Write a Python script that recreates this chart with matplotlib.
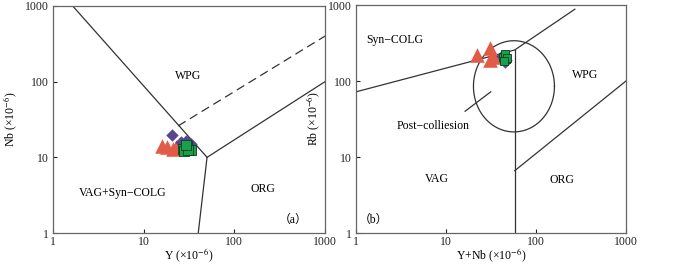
import numpy as np
import matplotlib
matplotlib.use("Agg")
import matplotlib.pyplot as plt

plt.rcParams['font.family'] = ['Liberation Serif', 'Noto Sans CJK SC', 'DejaVu Sans']
plt.rcParams['mathtext.fontset'] = 'stix'

# ---- Panel (a) data: Y vs Nb ----
a_tri_Y = [16, 18, 21, 23]
a_tri_Nb = [14, 13.5, 13, 13.5]
a_dia_Y = [20.4, 26, 29, 31, 33]
a_dia_Nb = [19.7, 16, 16.5, 16, 15]
a_sq_Y = [27, 30, 33, 28, 31, 29]
a_sq_Nb = [13, 14, 12.5, 12, 12.5, 14.5]

# ---- Panel (b) data: Y+Nb vs Rb ----
b_tri_X = [22, 31, 31, 34]
b_tri_Rb = [220, 269, 189, 209]
b_dia_X = [42, 44, 47, 45]
b_dia_Rb = [215, 200, 190, 180]
b_sq_X = [43, 46, 45, 48, 44]
b_sq_Rb = [210, 195, 225, 200, 185]

# discrimination boundaries (a)
a_line1_x = [1.65, 50, 40]
a_line1_y = [1000, 10, 1]
a_line2_x = [50, 1000]
a_line2_y = [10, 100]
a_dash_x = [24, 1000]
a_dash_y = [26, 400]

# discrimination boundaries (b)
b_line1_x = [1, 58, 270]
b_line1_y = [72, 256, 880]
b_vert_x = [58, 58]
b_vert_y = [256, 1]
b_line2_x = [58, 1000]
b_line2_y = [6.6, 100]
ell_center = (1.755, 1.93)   # log10 coordinates
ell_half = (0.45, 0.60)
b_leader_x = [16.3, 31.4]
b_leader_y = [40, 72]

red = '#E25B47'
purple = '#5A4595'
green = '#19A04B'
lc = '#333333'

fig = plt.figure(figsize=(7.0, 2.65), dpi=100)
axa = fig.add_axes([53/700, 32/265, 272/700, 227/265])
axb = fig.add_axes([356/700, 32/265, 270/700, 228/265])

for ax in (axa, axb):
    ax.set_xscale('log')
    ax.set_yscale('log')
    ax.set_xlim(1, 1000)
    ax.set_ylim(1, 1000)
    ax.set_xticks([1, 10, 100, 1000])
    ax.set_xticklabels(['1', '10', '100', '1000'])
    ax.set_yticks([1, 10, 100, 1000])
    ax.set_yticklabels(['1', '10', '100', '1000'])
    ax.minorticks_off()
    ax.tick_params(direction='in', length=3, width=0.8, labelsize=8.5, colors='#222222', pad=3)
    ax.tick_params(axis='x', pad=2)
    for s in ax.spines.values():
        s.set_color('#666666')
        s.set_linewidth(0.9)

fs = 8.5
# Panel a
axa.plot(a_line1_x, a_line1_y, color=lc, lw=0.9)
axa.plot(a_line2_x, a_line2_y, color=lc, lw=0.9)
axa.plot(a_dash_x, a_dash_y, color=lc, lw=0.9, ls=(0, (7, 4)))
axa.scatter(a_tri_Y, a_tri_Nb, marker='^', s=110, color=red, lw=0, zorder=3)
axa.scatter(a_dia_Y, a_dia_Nb, marker='D', s=40, color=purple, lw=0, zorder=3)
axa.scatter(a_sq_Y, a_sq_Nb, marker='s', s=45, color=green, edgecolor='#0B3D1E', lw=0.6, zorder=4)

def apos(px, py):
    return 10**((px-53)/90.67), 10**(3-(py-6)/75.67)

axa.text(*apos(188, 76), 'WPG', ha='center', va='center', fontsize=fs)
axa.text(*apos(123, 193), 'VAG+Syn−COLG', ha='center', va='center', fontsize=fs)
axa.text(*apos(263, 189), 'ORG', ha='center', va='center', fontsize=fs)
axa.text(*apos(293, 220), '（a）', ha='center', va='center', fontsize=8.5)
axa.set_xlabel(r'Y (×10$^{-6}$)', fontsize=8.5, labelpad=-1)
axa.set_ylabel(r'Nb (×10$^{-6}$)', fontsize=8.5, labelpad=4)

# Panel b
axb.plot(b_line1_x, b_line1_y, color=lc, lw=0.9)
axb.plot(b_vert_x, b_vert_y, color=lc, lw=0.9)
axb.plot(b_line2_x, b_line2_y, color=lc, lw=0.9)
t = np.linspace(0, 2*np.pi, 200)
ex = 10**(ell_center[0] + ell_half[0]*np.cos(t))
ey = 10**(ell_center[1] + ell_half[1]*np.sin(t))
axb.plot(ex, ey, color=lc, lw=0.9)
axb.plot(b_leader_x, b_leader_y, color=lc, lw=0.9)
axb.scatter(b_tri_X, b_tri_Rb, marker='^', s=110, color=red, lw=0, zorder=3)
axb.scatter(b_dia_X, b_dia_Rb, marker='D', s=40, color=purple, lw=0, zorder=3)
axb.scatter(b_sq_X, b_sq_Rb, marker='s', s=40, color=green, edgecolor='#0B3D1E', lw=0.6, zorder=4)

def bpos(px, py):
    return 10**((px-356)/90), 10**(3-(py-5)/76)

axb.text(*bpos(395, 40), 'Syn−COLG', ha='center', va='center', fontsize=fs)
axb.text(*bpos(585, 75), 'WPG', ha='center', va='center', fontsize=fs)
axb.text(*bpos(433, 126), 'Post−colliesion', ha='center', va='center', fontsize=fs)
axb.text(*bpos(437, 179), 'VAG', ha='center', va='center', fontsize=fs)
axb.text(*bpos(562, 180), 'ORG', ha='center', va='center', fontsize=fs)
axb.text(*bpos(373, 220), '（b）', ha='center', va='center', fontsize=8.5)
axb.set_xlabel(r'Y+Nb (×10$^{-6}$)', fontsize=8.5, labelpad=-1)
axb.set_ylabel(r'Rb (×10$^{-6}$)', fontsize=8.5, labelpad=4)

fig.savefig('out.png', dpi=100)
